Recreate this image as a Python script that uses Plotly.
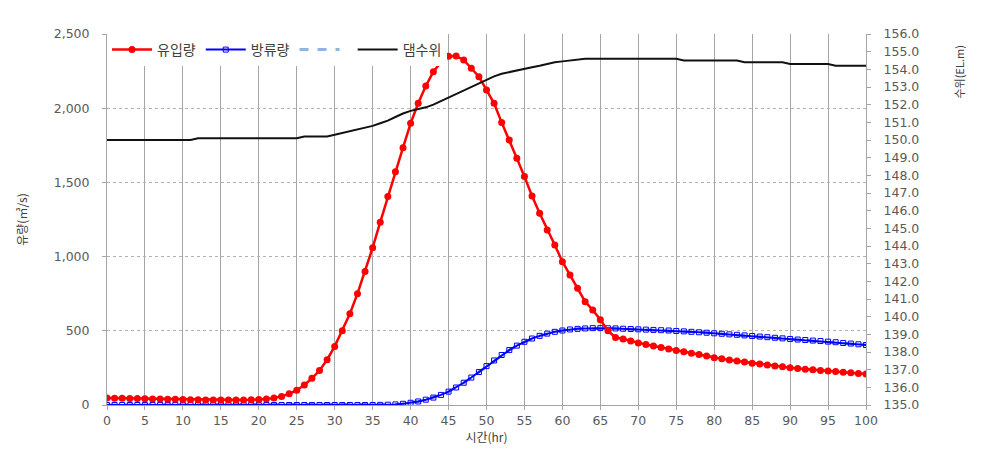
import plotly.graph_objects as go

hours = list(range(0, 101))

inflow = [47, 46, 45, 44, 43, 42, 41, 40, 39, 38,
          37, 36, 35, 34, 34, 33, 33, 33, 34, 35,
          37, 41, 48, 58, 75, 100, 135, 180, 232, 305,
          395, 500, 615, 750, 900, 1060, 1232, 1405, 1572, 1734,
          1898, 2033, 2149, 2246, 2310, 2350, 2352, 2325, 2269, 2212,
          2123, 2033, 1903, 1786, 1662, 1539, 1408, 1292, 1179, 1078,
          966, 876, 786, 696, 640, 575, 500, 455, 445, 432,
          418, 408, 398, 388, 378, 368, 358, 349, 340, 330,
          318, 311, 304, 297, 290, 282, 276, 269, 263, 257,
          251, 246, 241, 237, 233, 229, 225, 221, 217, 213,
          209]

outflow = [0] * 36 + [1, 2, 4, 8,
           15, 24, 36, 50, 68, 90, 118, 150, 185, 222,
           262, 300, 337, 370, 400, 426, 448, 466, 481, 493,
           502, 509, 513, 516, 518, 518, 517, 516, 514, 512,
           510, 508, 506, 504, 502, 499, 496, 493, 490, 487,
           483, 480, 476, 473, 469, 465, 461, 457, 453, 449,
           445, 441, 438, 434, 431, 427, 423, 418, 414, 409,
           404]

level = [150.0] * 12 + [150.1] * 14 + [150.2] * 4 + [
    150.3, 150.4, 150.5, 150.6, 150.7, 150.8, 150.95, 151.1, 151.3, 151.5,
    151.65, 151.75, 151.85, 152.0, 152.2, 152.4, 152.6, 152.8, 153.0, 153.2,
    153.4, 153.6, 153.75, 153.85, 153.95, 154.05, 154.12, 154.2, 154.3, 154.4,
    154.45, 154.5, 154.55] + [154.6] * 13 + [154.5] * 8 + [154.4] * 6 + [154.3] * 6 + [154.2] * 5

name_in = "유입량"
name_out = "방류량"
name_blank = " "
name_level = "댐수위"

x_ticks = list(range(0, 101, 5))
y_ticks = list(range(0, 2501, 500))
y2_ticks = [135.0 + i for i in range(22)]

font_kr = "Noto Sans CJK KR"
font_num = "DejaVu Sans"
gray_txt = "#595959"
tick_size = 12.5

fig = go.Figure()

fig.add_trace(go.Scatter(
    x=hours, y=outflow, name=name_blank, mode="lines",
    line=dict(color="#8DB4E2", width=3, dash="dash"),
    legendrank=3, hoverinfo="skip"))

fig.add_trace(go.Scatter(
    x=hours, y=outflow, name=name_out, mode="lines+markers",
    line=dict(color="#0000FF", width=2),
    marker=dict(symbol="square-open", size=5, color="#0000FF", line=dict(width=1)),
    legendrank=2))

fig.add_trace(go.Scatter(
    x=hours, y=inflow, name=name_in, mode="lines+markers",
    line=dict(color="#FF0000", width=2.5),
    marker=dict(symbol="circle", size=7, color="#FF0000"),
    legendrank=1))

fig.add_trace(go.Scatter(
    x=hours, y=level, name=name_level, mode="lines", yaxis="y2",
    line=dict(color="#111111", width=2),
    legendrank=4))

fig.update_layout(
    width=995, height=454,
    margin=dict(l=99, r=137, t=26, b=57, autoexpand=False),
    paper_bgcolor="white", plot_bgcolor="white",
    font=dict(family=font_num, size=11, color=gray_txt),
    showlegend=True,
    legend=dict(
        orientation="h", x=0, y=1, xanchor="left", yanchor="top",
        bgcolor="white", borderwidth=0,
        font=dict(family=font_kr, size=14, color="#404040"),
        itemwidth=40, tracegroupgap=0,
    ),
    xaxis=dict(
        range=[0, 100], tickmode="array", tickvals=x_ticks,
        showgrid=True, gridcolor="#A6A6A6", gridwidth=1,
        showline=True, linecolor="#A6A6A6", linewidth=1,
        ticks="outside", ticklen=4, tickcolor="#A6A6A6",
        zeroline=False, automargin=False,
        tickfont=dict(family=font_num, size=tick_size, color=gray_txt),
        title=dict(text="시간(hr)", font=dict(family=font_kr, size=12, color="#404040"), standoff=6),
    ),
    yaxis=dict(
        range=[0, 2500], tickmode="array", tickvals=y_ticks,
        tickformat=",d",
        showgrid=True, gridcolor="#B3B3B3", gridwidth=1, griddash="dot",
        showline=True, linecolor="#A6A6A6", linewidth=1,
        ticks="outside", ticklen=4, tickcolor="#A6A6A6",
        zeroline=False, ticklabelstandoff=10, automargin=False,
        tickfont=dict(family=font_num, size=tick_size, color=gray_txt),
        title=dict(text="유량(㎥/s)", font=dict(family=font_kr, size=12, color="#404040"), standoff=23),
    ),
    yaxis2=dict(
        range=[135, 156], overlaying="y", side="right",
        tickmode="array", tickvals=y2_ticks, tickformat=".1f",
        showgrid=False, showline=True, linecolor="#A6A6A6", linewidth=1,
        ticks="outside", ticklen=4, tickcolor="#A6A6A6",
        zeroline=False, ticklabelstandoff=10, automargin=False,
        tickfont=dict(family=font_num, size=tick_size, color=gray_txt),
    ),
    annotations=[dict(
        text="수위(EL.m)", textangle=-90, xref="paper", yref="paper",
        x=1.0, y=1.0, xanchor="center", yanchor="top",
        xshift=92, yshift=-10, showarrow=False,
        font=dict(family=font_kr, size=11, color="#404040"))],
)

fig.write_html("out.html")
